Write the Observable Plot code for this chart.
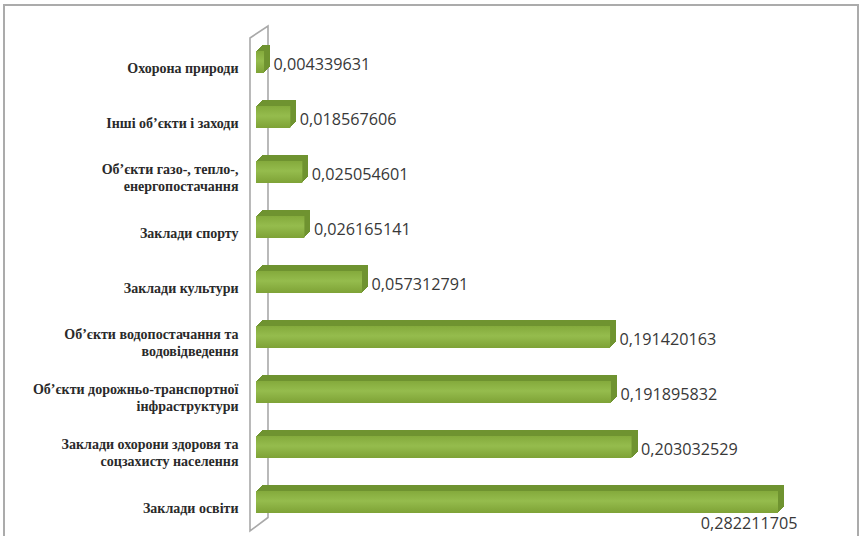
<!DOCTYPE html>
<html>
<head>
<meta charset="utf-8">
<script src="https://cdn.jsdelivr.net/npm/d3@7"></script>
<script src="https://cdn.jsdelivr.net/npm/@observablehq/plot@0.6"></script>
<style>
  html, body { margin: 0; padding: 0; background: #fff; }
  #wrap { position: relative; width: 862px; height: 536px; overflow: hidden; }
  #frame { position: absolute; left: 3px; top: 4px; width: 856px; height: 545px;
           border: 2px solid #ababab; box-sizing: border-box; pointer-events: none; }
</style>
</head>
<body>
<div id="wrap"><div id="frame"></div></div>
<script>
// ---- data ----
const categories = [
  "Охорона природи",
  "Інші об’єкти і заходи",
  "Об’єкти газо-, тепло-,\nенергопостачання",
  "Заклади спорту",
  "Заклади культури",
  "Об’єкти водопостачання та\nводовідведення",
  "Об’єкти дорожньо-транспортної\nінфраструктури",
  "Заклади охорони здоровя та\nсоцзахисту населення",
  "Заклади освіти"
];
const values = [
  0.004339631,
  0.018567606,
  0.025054601,
  0.026165141,
  0.057312791,
  0.191420163,
  0.191895832,
  0.203032529,
  0.282211705
];

const data = categories.map((name, i) => ({name, value: values[i], label: String(values[i]).replace(".", ",")}));
const maxV = d3.max(values);

const topColor = "#6f9330";
const sideColor = "#4d6a1e";
const depth = 6;

const marks = [];
// gradient defs
marks.push(() => {
  const defs = d3.create("svg:defs");
  const g = defs.append("linearGradient").attr("id", "frontGrad")
    .attr("x1", 0).attr("y1", 0).attr("x2", 0).attr("y2", 1);
  g.append("stop").attr("offset", "0%").attr("stop-color", "#84aa3c");
  g.append("stop").attr("offset", "45%").attr("stop-color", "#95bc4d");
  g.append("stop").attr("offset", "100%").attr("stop-color", "#7ea236");
  return defs.node();
});
// extrusion (top face)
for (let k = depth; k >= 1; k--) {
  marks.push(Plot.barX(data, {x: "value", y: "name", fill: topColor, dx: k, dy: -k, shapeRendering: "crispEdges"}));
}
// side face
for (let k = 1; k <= depth; k++) {
  marks.push(Plot.ruleX(data, {x: "value", y: "name", stroke: sideColor, strokeWidth: 1.2, dx: k - 0.5, dy: -k, shapeRendering: "crispEdges"}));
}
// front face
marks.push(Plot.barX(data, {x: "value", y: "name", fill: "url(#frontGrad)"}));
// value labels
marks.push(Plot.text(data.filter(d => d.value < maxV), {
  x: "value", y: "name", text: "label", textAnchor: "start", dx: 9, dy: 2,
  fill: "#383838", fontSize: 16.2, fontFamily: "Open Sans"
}));
marks.push(Plot.text(data.filter(d => d.value === maxV), {
  x: "value", y: "name", text: "label", textAnchor: "end", dx: 19, dy: 21,
  fill: "#383838", fontSize: 16.2, fontFamily: "Open Sans"
}));
// category labels
marks.push(Plot.text(data, {
  y: "name", text: "name", frameAnchor: "left", textAnchor: "end", dx: -18, dy: 5,
  lineHeight: 1.2, fill: "#2a2a2a", fontSize: 14, fontWeight: "bold",
  fontFamily: "Liberation Serif, serif"
}));

const plot = Plot.plot({
  width: 862,
  height: 536,
  marginLeft: 256,
  marginRight: 40,
  marginTop: 44.5,
  marginBottom: 16.8,
  style: {background: "transparent", overflow: "visible"},
  x: {domain: [0, 0.306], axis: null},
  y: {domain: categories, paddingInner: 0.6, paddingOuter: 0.1, axis: null},
  marks
});

// back wall drawn behind the bars, positioned from the plot's own scales
const xs = plot.scale("x"), ys = plot.scale("y");
const x0 = xs.apply(0);
const bandTop = ys.apply(categories[0]);
const bandBottom = ys.apply(categories[categories.length - 1]) + ys.bandwidth;
const lx = x0 - 6, rx = x0 + 12;
const wall = d3.select(plot).insert("g", "g");
wall.append("path")
  .attr("d", `M${lx},${bandTop - 13} L${rx},${bandTop - 25} L${rx},${bandBottom + 4.5} L${lx},${bandBottom + 18} Z`)
  .attr("fill", "#fff").attr("stroke", "#a9a9a9").attr("stroke-width", 1.6);

document.getElementById("wrap").prepend(plot);
</script>
</body>
</html>
